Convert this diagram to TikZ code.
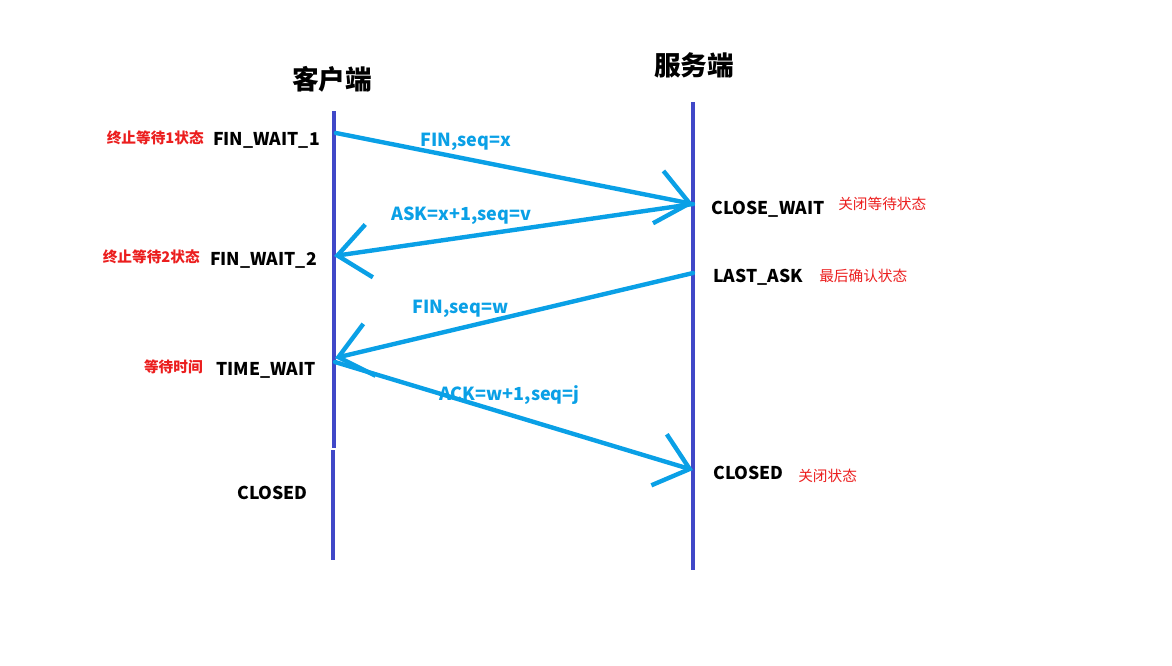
\documentclass[tikz,border=0pt]{standalone}
\usepackage{fontspec}
\setmainfont{Noto Sans CJK SC}
\usetikzlibrary{arrows.meta}
\definecolor{lifeblue}{RGB}{64,72,200}
\definecolor{msgcyan}{RGB}{10,160,230}
\definecolor{notered}{RGB}{235,30,30}
\tikzset{
  lifeline/.style={line width=3pt, lifeblue},
  msg/.style={line width=3.3pt, msgcyan, line cap=round, line join=round,
              -{Straight Barb[length=24pt, width=40pt]}},
  side/.style={font=\fontsize{20}{24}\selectfont\bfseries, inner sep=0pt},
  state/.style={font=\fontsize{13.2}{16}\selectfont\bfseries, inner sep=0pt},
  note/.style={font=\fontsize{11}{13}\selectfont, text=notered, inner sep=0pt},
  notebf/.style={note, font=\fontsize{11}{13}\selectfont\bfseries},
  msglbl/.style={font=\fontsize{13.5}{16}\selectfont\bfseries, text=msgcyan, inner sep=0pt}
}

\begin{document}
\begin{tikzpicture}[x=0.75pt, y=-0.75pt]
\useasboundingbox (0,0) rectangle (1172,665);
% lifelines
\coordinate (ctop) at (334,111);
\coordinate (cgap) at (334,448);
\coordinate (cgap2) at (333,450);
\coordinate (cbot) at (333,560);
\coordinate (stop) at (693,102);
\coordinate (sbot) at (693,570);
\draw[lifeline] (ctop) -- (cgap);
\draw[lifeline] (cgap2) -- (cbot);
\draw[lifeline] (stop) -- (sbot);
\node[side] (client) at (332,79) {客户端};
\node[side] (server) at (694,65) {服务端};
% message points
\coordinate (c1) at (336,133);
\coordinate (s1) at (693,204);
\coordinate (c2) at (334,256);
\coordinate (s2) at (693,273);
\coordinate (c3) at (335,358);
\coordinate (c4) at (335,362);
\coordinate (s3) at (693,470);
\draw[msg] (c1) -- (s1);
\draw[msg] (s1) -- (c2);
\draw[msg] (s2) -- (c3);
\draw[msg] (c4) -- (s3);
\node[msglbl, anchor=base west] (m1) at (420,146) {FIN,seq=x};
\node[msglbl, anchor=base west] (m2) at (391,220) {ASK=x+1,seq=v};
\node[msglbl, anchor=base west] (m3) at (412,313) {FIN,seq=w};
\node[msglbl, anchor=base west] (m4) at (439,400) {ACK=w+1,seq=j};
% client states
\node[state, anchor=base east] (fw1) at (320,145) {FIN\_WAIT\_1};
\node[state, anchor=base east] (fw2) at (317,265) {FIN\_WAIT\_2};
\node[state, anchor=base east] (tw) at (316,375) {TIME\_WAIT};
\node[state, anchor=base west] (cc) at (237,499) {CLOSED};
\node[notebf, anchor=east] (n1) at (204,138) {终止等待1状态};
\node[notebf, anchor=east] (n2) at (200,257) {终止等待2状态};
\node[notebf, anchor=east] (n3) at (203,367) {等待时间};
% server states
\node[state, anchor=base west] (cw) at (711,214) {CLOSE\_WAIT};
\node[state, anchor=base west] (la) at (713,282) {LAST\_ASK};
\node[state, anchor=base west] (sc) at (713,479) {CLOSED};
\node[note, anchor=west] (n4) at (838,203.5) {关闭等待状态};
\node[note, anchor=west] (n5) at (819,275.5) {最后确认状态};
\node[note, anchor=west] (n6) at (798,475.5) {关闭状态};
\end{tikzpicture}
\end{document}
